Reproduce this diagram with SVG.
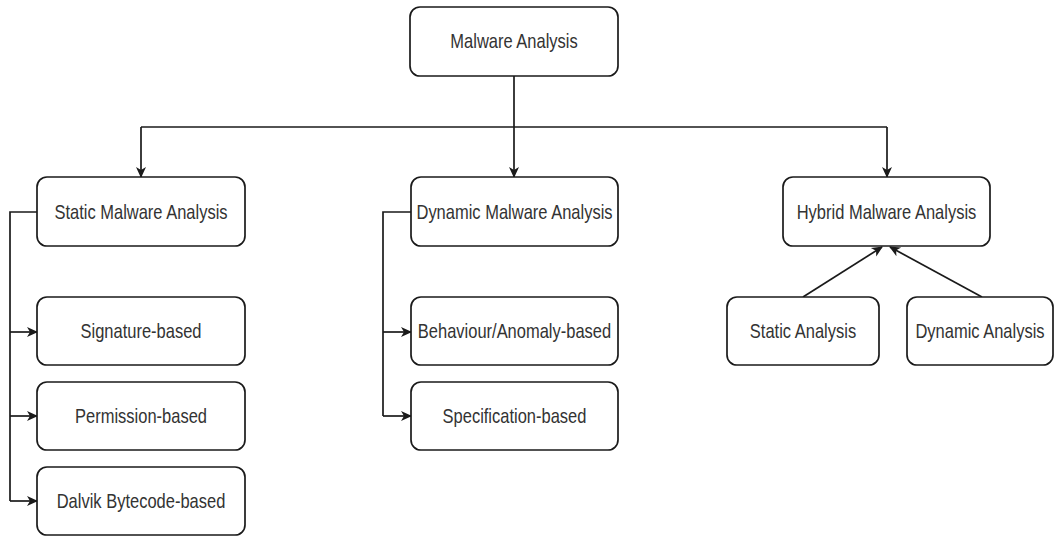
<svg xmlns="http://www.w3.org/2000/svg" width="1054" height="536" viewBox="0 0 1054 536">
<style>
.box{fill:#fff;stroke:#1a1a1a;stroke-width:1.7}
.lbl{font-family:"Liberation Sans",Arial,sans-serif;font-size:16.5px;fill:#333;text-anchor:middle;dominant-baseline:central}
.ln{fill:none;stroke:#1a1a1a;stroke-width:1.7}
</style>
<defs>
<marker id="arr" markerWidth="12" markerHeight="12" refX="10" refY="6" orient="auto" markerUnits="userSpaceOnUse">
<path d="M0,1 L11,6 L0,11 L3,6 Z" fill="#1a1a1a"/>
</marker>
</defs>
<rect width="1054" height="536" fill="#fff"/>
<g id="connectors">
<path class="ln" d="M514,76 V177" marker-end="url(#arr)"/>
<path class="ln" d="M141,127 H887"/>
<path class="ln" d="M141,127 V177" marker-end="url(#arr)"/>
<path class="ln" d="M887,127 V177" marker-end="url(#arr)"/>
<path class="ln" d="M37,212 H10 V501"/>
<path class="ln" d="M10,332 H37" marker-end="url(#arr)"/>
<path class="ln" d="M10,416 H37" marker-end="url(#arr)"/>
<path class="ln" d="M10,501 H37" marker-end="url(#arr)"/>
<path class="ln" d="M411,212 H383 V416"/>
<path class="ln" d="M383,332 H411" marker-end="url(#arr)"/>
<path class="ln" d="M383,416 H411" marker-end="url(#arr)"/>
<path class="ln" d="M803,297 L882,247" marker-end="url(#arr)"/>
<path class="ln" d="M982,297 L890,247" marker-end="url(#arr)"/>
</g>
<g id="n-root"><rect class="box" x="410" y="7" width="208" height="69" rx="10"/><text class="lbl" transform="translate(514,41) scale(1,1.27)">Malware Analysis</text></g>
<g id="n-static"><rect class="box" x="37" y="177" width="208" height="69" rx="10"/><text class="lbl" transform="translate(141,212) scale(1,1.27)">Static Malware Analysis</text></g>
<g id="n-dynamic"><rect class="box" x="411" y="177" width="207" height="69" rx="10"/><text class="lbl" transform="translate(514.5,212) scale(1,1.27)">Dynamic Malware Analysis</text></g>
<g id="n-hybrid"><rect class="box" x="783" y="177" width="207" height="69" rx="10"/><text class="lbl" transform="translate(886.5,212) scale(1,1.27)">Hybrid Malware Analysis</text></g>
<g id="n-signature"><rect class="box" x="37" y="297" width="208" height="68" rx="10"/><text class="lbl" transform="translate(141,331) scale(1,1.27)">Signature-based</text></g>
<g id="n-permission"><rect class="box" x="37" y="382" width="208" height="68" rx="10"/><text class="lbl" transform="translate(141,416) scale(1,1.27)">Permission-based</text></g>
<g id="n-dalvik"><rect class="box" x="37" y="467" width="208" height="68" rx="10"/><text class="lbl" transform="translate(141,501) scale(1,1.27)">Dalvik Bytecode-based</text></g>
<g id="n-behaviour"><rect class="box" x="411" y="297" width="207" height="68" rx="10"/><text class="lbl" transform="translate(514.5,331) scale(1,1.27)">Behaviour/Anomaly-based</text></g>
<g id="n-specification"><rect class="box" x="411" y="382" width="207" height="68" rx="10"/><text class="lbl" transform="translate(514.5,416) scale(1,1.27)">Specification-based</text></g>
<g id="n-staticA"><rect class="box" x="727" y="297" width="152" height="68" rx="10"/><text class="lbl" transform="translate(803,331) scale(1,1.27)">Static Analysis</text></g>
<g id="n-dynamicA"><rect class="box" x="907" y="297" width="146" height="68" rx="10"/><text class="lbl" transform="translate(980,331) scale(1,1.27)">Dynamic Analysis</text></g>
</svg>
